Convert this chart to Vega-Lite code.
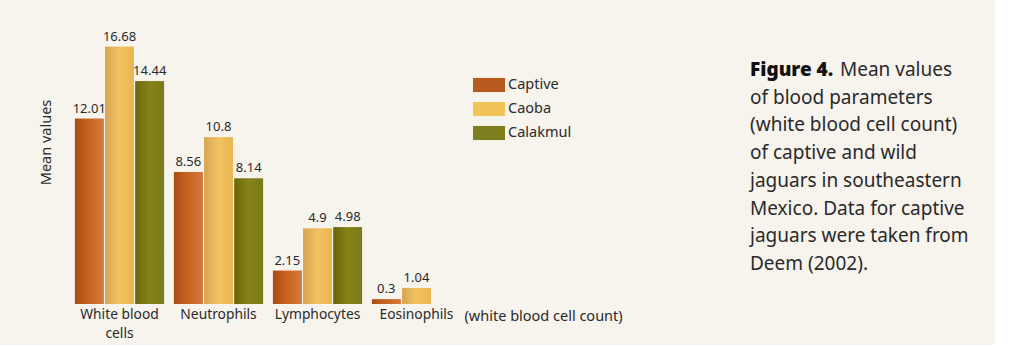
{
  "$schema": "https://vega.github.io/schema/vega-lite/v6.json",
  "background": "#f7f3ed",
  "padding": {"left": 38, "top": 30, "right": 5, "bottom": 5},
  "config": {
    "view": {"stroke": null},
    "font": "Noto Sans",
    "concat": {"spacing": 127}
  },
  "datasets": {
    "bars": [
      {"cell": "White blood cells", "group": "Captive", "value": 12.01},
      {"cell": "White blood cells", "group": "Caoba", "value": 16.68},
      {"cell": "White blood cells", "group": "Calakmul", "value": 14.44},
      {"cell": "Neutrophils", "group": "Captive", "value": 8.56},
      {"cell": "Neutrophils", "group": "Caoba", "value": 10.8},
      {"cell": "Neutrophils", "group": "Calakmul", "value": 8.14},
      {"cell": "Lymphocytes", "group": "Captive", "value": 2.15},
      {"cell": "Lymphocytes", "group": "Caoba", "value": 4.9},
      {"cell": "Lymphocytes", "group": "Calakmul", "value": 4.98},
      {"cell": "Eosinophils", "group": "Captive", "value": 0.3},
      {"cell": "Eosinophils", "group": "Caoba", "value": 1.04}
    ],
    "caption": [
      {"line": 0, "text": "Mean values"},
      {"line": 1, "text": "of blood parameters"},
      {"line": 2, "text": "(white blood cell count)"},
      {"line": 3, "text": "of captive and wild"},
      {"line": 4, "text": "jaguars in southeastern"},
      {"line": 5, "text": "Mexico. Data for captive"},
      {"line": 6, "text": "jaguars were taken from"},
      {"line": 7, "text": "Deem (2002)."}
    ]
  },
  "hconcat": [
    {
      "width": 396,
      "height": 270,
      "data": {"name": "bars"},
      "encoding": {
        "x": {
          "field": "cell",
          "type": "nominal",
          "sort": ["White blood cells", "Neutrophils", "Lymphocytes", "Eosinophils"],
          "scale": {"paddingInner": 0.1, "paddingOuter": 0.05},
          "axis": {
            "title": "(white blood cell count)",
            "titleX": 394,
            "titleY": 5,
            "titleAlign": "left",
            "titleBaseline": "top",
            "titleFontWeight": "normal",
            "titleFontSize": 14.5,
            "titleColor": "#2a2a2a",
            "labelAngle": 0,
            "labelFontSize": 13.8,
            "labelColor": "#2a2a2a",
            "labelPadding": 3,
            "labelLineHeight": 19,
            "labelExpr": "datum.label == 'White blood cells' ? ['White blood', 'cells'] : datum.label",
            "ticks": false,
            "domain": false
          }
        },
        "xOffset": {
          "field": "group",
          "type": "nominal",
          "sort": ["Captive", "Caoba", "Calakmul"],
          "scale": {"paddingInner": 0.05}
        },
        "y": {
          "field": "value",
          "type": "quantitative",
          "scale": {"domain": [0, 17.5], "nice": false},
          "axis": {
            "title": "Mean values",
            "titleX": -17,
            "titleY": 108,
            "titleFontWeight": "normal",
            "titleFontSize": 14.5,
            "titleColor": "#2a2a2a",
            "labels": false,
            "ticks": false,
            "domain": false,
            "grid": false
          }
        }
      },
      "layer": [
        {
          "mark": {"type": "bar"},
          "encoding": {
            "color": {
              "field": "group",
              "type": "nominal",
              "sort": ["Captive", "Caoba", "Calakmul"],
              "scale": {
                "domain": ["Captive", "Caoba", "Calakmul"],
                "range": ["#b85a20", "#f0c458", "#7e8020"]
              },
              "legend": {
                "title": null,
                "orient": "none",
                "legendX": 403,
                "legendY": 35,
                "symbolType": "M-1,-0.44H1V0.44H-1Z",
                "symbolSize": 1024,
                "symbolStrokeWidth": 0,
                "labelFontSize": 14.5,
                "labelColor": "#2a2a2a",
                "labelOffset": 3,
                "rowPadding": -9
              }
            }
          }
        },
        {
          "transform": [{"filter": "datum.group == 'Captive'"}],
          "mark": {
            "type": "bar",
            "fill": {
              "gradient": "linear", "x1": 0, "x2": 1, "y1": 0, "y2": 0,
              "stops": [
                {"offset": 0, "color": "#a84a16"},
                {"offset": 0.45, "color": "#c8621f"},
                {"offset": 1, "color": "#d47a3c"}
              ]
            }
          }
        },
        {
          "transform": [{"filter": "datum.group == 'Caoba'"}],
          "mark": {
            "type": "bar",
            "fill": {
              "gradient": "linear", "x1": 0, "x2": 1, "y1": 0, "y2": 0,
              "stops": [
                {"offset": 0, "color": "#d6a550"},
                {"offset": 0.5, "color": "#f2c262"},
                {"offset": 1, "color": "#e9b550"}
              ]
            }
          }
        },
        {
          "transform": [{"filter": "datum.group == 'Calakmul'"}],
          "mark": {
            "type": "bar",
            "fill": {
              "gradient": "linear", "x1": 0, "x2": 1, "y1": 0, "y2": 0,
              "stops": [
                {"offset": 0, "color": "#6a660e"},
                {"offset": 0.5, "color": "#878316"},
                {"offset": 1, "color": "#7a7a1e"}
              ]
            }
          }
        },
        {
          "mark": {"type": "text", "baseline": "bottom", "dy": -3, "fontSize": 13, "color": "#2a2a2a"},
          "encoding": {"text": {"field": "value", "type": "nominal"}}
        }
      ]
    },
    {
      "width": 240,
      "height": 270,
      "data": {"name": "caption"},
      "encoding": {
        "y": {
          "field": "line",
          "type": "quantitative",
          "scale": {"domain": [-1.30, 8.447], "nice": false, "zero": false, "reverse": true},
          "axis": null
        },
        "x": {"datum": 0, "type": "quantitative", "scale": {"domain": [0, 1]}, "axis": null}
      },
      "layer": [
        {
          "mark": {"type": "text", "align": "left", "baseline": "middle", "fontSize": 19, "color": "#2a2a2a"},
          "transform": [{"filter": "datum.line > 0"}],
          "encoding": {"text": {"field": "text", "type": "nominal"}}
        },
        {
          "mark": {"type": "text", "align": "left", "baseline": "middle", "fontSize": 19, "color": "#2a2a2a", "dx": 90},
          "transform": [{"filter": "datum.line == 0"}],
          "encoding": {"text": {"field": "text", "type": "nominal"}}
        },
        {
          "mark": {"type": "text", "align": "left", "baseline": "middle", "fontSize": 19, "fontWeight": 900, "color": "#111111", "text": "Figure 4."},
          "transform": [{"filter": "datum.line == 0"}],
          "encoding": {}
        }
      ]
    }
  ]
}
